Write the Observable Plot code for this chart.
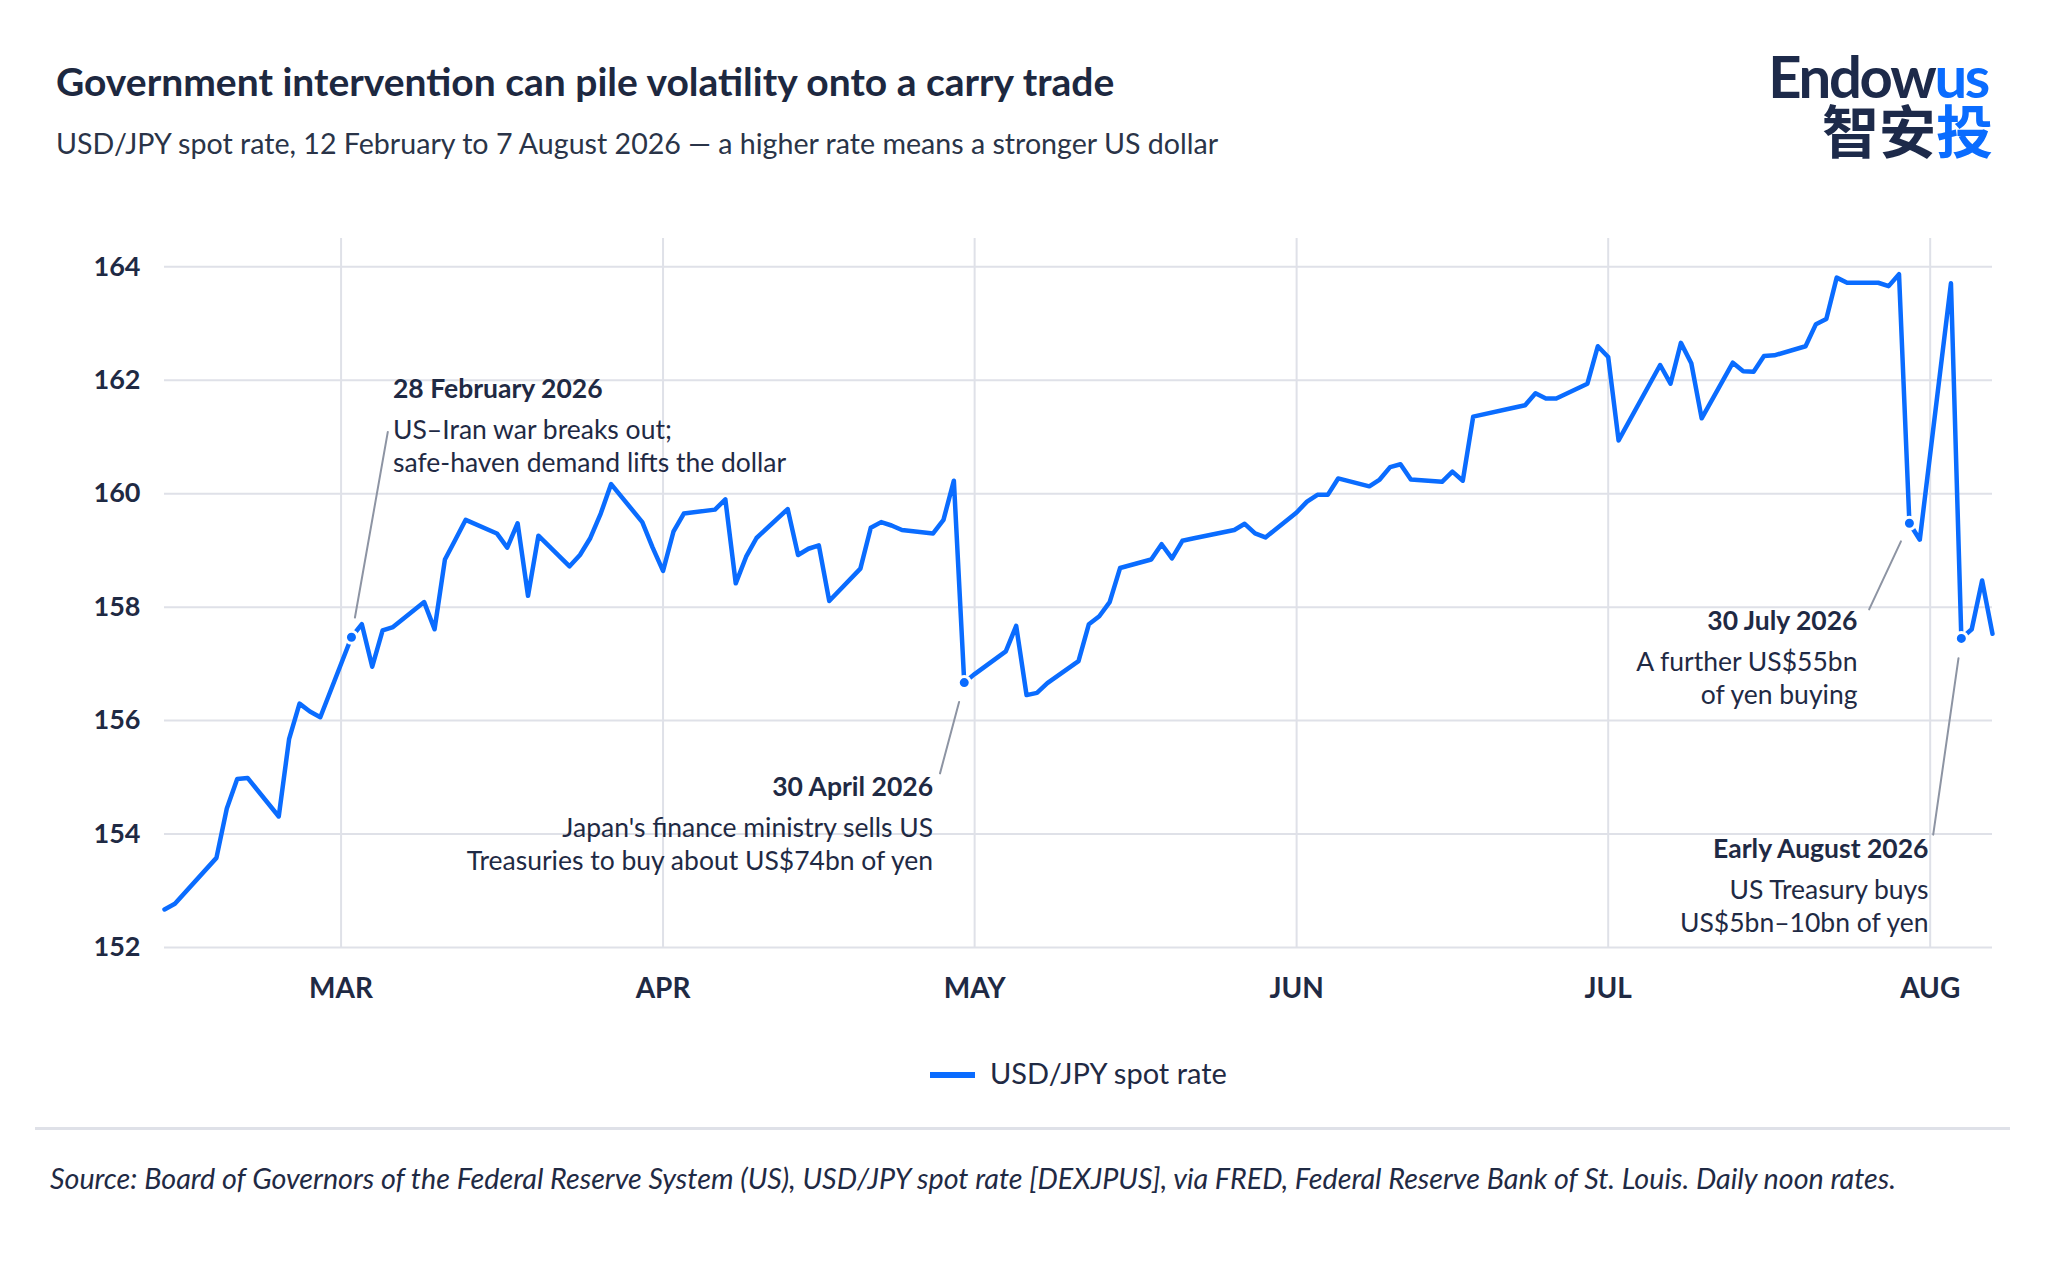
<!DOCTYPE html>
<html>
<head>
<meta charset="utf-8">
<script src="https://cdn.jsdelivr.net/npm/d3@7"></script>
<script src="https://cdn.jsdelivr.net/npm/@observablehq/plot@0.6"></script>
<style>
  html, body { margin: 0; padding: 0; background: #ffffff; }
  body { width: 2048px; height: 1270px; position: relative; overflow: hidden; font-family: Lato, "Noto Sans", sans-serif; color: #1f2a44; }
  .abs { position: absolute; line-height: 1; white-space: nowrap; }
  #title { left: 56px; top: 62px; font-size: 39px; font-weight: 700; color: #1d2840; }
  #subtitle { left: 56px; top: 129px; font-size: 28.6px; font-weight: 400; color: #2a3448; }
  #logo { right: 60px; top: 50px; font-size: 58px; line-height: 0.9; font-weight: 700; color: #1d2a4a; letter-spacing: -2.3px; }
  #logo span, #logocn span { color: #0a6cff; }
  #logocn { right: 55px; top: 103px; font-size: 57px; line-height: 0.9; font-weight: 700; color: #1d2a4a; font-family: "Noto Sans CJK SC", sans-serif; }
  #chart { position: absolute; left: 0; top: 200px; }
  #legend-swatch { position: absolute; left: 930px; top: 1072px; width: 45px; height: 6px; background: #0a6cff; }
  #legend-text { left: 990px; top: 1058px; font-size: 29px; color: #1f2a44; }
  #rule { position: absolute; left: 35px; top: 1127px; width: 1975px; height: 3px; background: #dfe1e8; }
  #source { left: 50px; top: 1164px; font-size: 28.7px; font-style: italic; color: #1f2a44; }
</style>
</head>
<body>
<div id="title" class="abs">Government intervention can pile volatility onto a carry trade</div>
<div id="subtitle" class="abs">USD/JPY spot rate, 12 February to 7 August 2026 — a higher rate means a stronger US dollar</div>
<div id="logo" class="abs">Endow<span>us</span></div>
<div id="logocn" class="abs">智安<span>投</span></div>
<div id="chart"></div>
<div id="legend-swatch"></div>
<div id="legend-text" class="abs">USD/JPY spot rate</div>
<div id="rule"></div>
<div id="source" class="abs">Source: Board of Governors of the Federal Reserve System (US), USD/JPY spot rate [DEXJPUS], via FRED, Federal Reserve Bank of St. Louis. Daily noon rates.</div>
<script>
// ---- data ----
const dates = [
  "2026-02-12","2026-02-13","2026-02-17","2026-02-18","2026-02-19","2026-02-20",
  "2026-02-23","2026-02-24","2026-02-25","2026-02-26","2026-02-27",
  "2026-03-02","2026-03-03","2026-03-04","2026-03-05","2026-03-06",
  "2026-03-09","2026-03-10","2026-03-11","2026-03-12","2026-03-13",
  "2026-03-16","2026-03-17","2026-03-18","2026-03-19","2026-03-20",
  "2026-03-23","2026-03-24","2026-03-25","2026-03-26","2026-03-27",
  "2026-03-30","2026-03-31","2026-04-01","2026-04-02","2026-04-03",
  "2026-04-06","2026-04-07","2026-04-08","2026-04-09","2026-04-10",
  "2026-04-13","2026-04-14","2026-04-15","2026-04-16","2026-04-17",
  "2026-04-20","2026-04-21","2026-04-22","2026-04-23","2026-04-24",
  "2026-04-27","2026-04-28","2026-04-29","2026-04-30","2026-05-01",
  "2026-05-04","2026-05-05","2026-05-06","2026-05-07","2026-05-08",
  "2026-05-11","2026-05-12","2026-05-13","2026-05-14","2026-05-15",
  "2026-05-18","2026-05-19","2026-05-20","2026-05-21","2026-05-22",
  "2026-05-26","2026-05-27","2026-05-28","2026-05-29",
  "2026-06-01","2026-06-02","2026-06-03","2026-06-04","2026-06-05",
  "2026-06-08","2026-06-09","2026-06-10","2026-06-11","2026-06-12",
  "2026-06-15","2026-06-16","2026-06-17","2026-06-18",
  "2026-06-22","2026-06-23","2026-06-24","2026-06-25","2026-06-26",
  "2026-06-29","2026-06-30","2026-07-01","2026-07-02",
  "2026-07-06","2026-07-07","2026-07-08","2026-07-09","2026-07-10",
  "2026-07-13","2026-07-14","2026-07-15","2026-07-16","2026-07-17",
  "2026-07-20","2026-07-21","2026-07-22","2026-07-23","2026-07-24",
  "2026-07-27","2026-07-28","2026-07-29","2026-07-30","2026-07-31",
  "2026-08-03","2026-08-04","2026-08-05","2026-08-06","2026-08-07"
];
const values = [
  152.67,152.77,153.58,154.45,154.97,154.99,
  154.31,155.68,156.30,156.16,156.06,
  157.47,157.70,156.95,157.59,157.65,
  158.09,157.61,158.84,159.19,159.54,
  159.30,159.05,159.48,158.20,159.26,
  158.72,158.92,159.22,159.65,160.17,
  159.50,159.05,158.64,159.33,159.65,
  159.72,159.90,158.42,158.89,159.22,
  159.73,158.92,159.03,159.09,158.11,
  158.68,159.40,159.50,159.44,159.36,
  159.30,159.54,160.23,156.67,156.82,
  157.22,157.67,156.45,156.49,156.66,
  157.05,157.70,157.84,158.09,158.69,
  158.84,159.11,158.86,159.17,159.21,
  159.36,159.47,159.30,159.23,
  159.67,159.86,159.98,159.98,160.27,
  160.13,160.25,160.47,160.52,160.25,
  160.21,160.39,160.23,161.36,
  161.52,161.56,161.77,161.68,161.68,
  161.94,162.60,162.41,160.94,
  162.27,161.94,162.66,162.30,161.33,
  162.31,162.16,162.15,162.43,162.44,
  162.60,162.99,163.08,163.81,163.72,
  163.72,163.66,163.87,159.48,159.19,
  163.71,157.45,157.61,158.47,157.53
];
const yTicks = [152, 154, 156, 158, 160, 162, 164];
const yLabels = ["152","154","156","158","160","162","164"];
const monthTicks = ["2026-03-01","2026-04-01","2026-05-01","2026-06-01","2026-07-01","2026-08-01"];
const monthLabels = ["MAR","APR","MAY","JUN","JUL","AUG"];

// annotations
const annDates = ["2026-03-02","2026-04-30","2026-07-30","2026-08-04"];
const annTitles = ["28 February 2026","30 April 2026","30 July 2026","Early August 2026"];
const annLine1 = ["US–Iran war breaks out;","Japan's finance ministry sells US","A further US$55bn","US Treasury buys"];
const annLine2 = ["safe-haven demand lifts the dollar","Treasuries to buy about US$74bn of yen","of yen buying","US$5bn–10bn of yen"];
const annAnchor = ["start","end","end","end"];
const annLabelDates = ["2026-03-06","2026-04-27","2026-07-25","2026-07-31T20:00"];
const annLabelValues = [161.83, 154.82, 157.74, 153.73];
const annLinkDates = ["2026-03-05T12:00","2026-04-27T16:00","2026-07-26T03:00","2026-08-01T07:00"];
const annLinkValues = [161.09, 155.07, 157.96, 153.99];

// ---- build ----
const P = s => new Date(s.length === 10 ? s + "T00:00:00Z" : s + ":00Z");
const blue = "#0a6cff";
const navy = "#1f2a44";
const gridColor = "#dfe1e8";

const data = dates.map((d, i) => ({date: P(d), value: values[i]}));
const valueByDate = new Map(dates.map((d, i) => [d, values[i]]));
const ann = annDates.map((d, i) => ({
  date: P(d), value: valueByDate.get(d),
  title: annTitles[i], line1: annLine1[i], line2: annLine2[i], anchor: annAnchor[i],
  lx: P(annLabelDates[i]), ly: annLabelValues[i],
  cx: P(annLinkDates[i]), cy: annLinkValues[i]
}));
const monthTickDates = monthTicks.map(P);
const labelByTime = new Map(monthTickDates.map((d, i) => [+d, monthLabels[i]]));
const yLabelByValue = new Map(yTicks.map((v, i) => [v, yLabels[i]]));

function annText(anchor) {
  const sub = ann.filter(a => a.anchor === anchor);
  const base = {x: "lx", y: "ly", textAnchor: anchor, lineAnchor: "middle", fill: navy, fontSize: 26.5};
  return [
    Plot.text(sub, {...base, text: "title", fontWeight: 700}),
    Plot.text(sub, {...base, text: "line1", dy: 41}),
    Plot.text(sub, {...base, text: "line2", dy: 74})
  ];
}

const chart = Plot.plot({
  width: 2048,
  height: 807,
  marginTop: 38,
  marginBottom: 60,
  marginLeft: 164,
  marginRight: 56,
  x: {type: "utc", domain: [P(dates[0]), P(dates[dates.length - 1])]},
  y: {domain: [152, 164.5]},
  style: {fontFamily: "Lato, sans-serif", color: navy, background: "white", overflow: "visible"},
  marks: [
    Plot.gridY(yTicks, {stroke: gridColor, strokeOpacity: 1, strokeWidth: 2}),
    Plot.gridX(monthTickDates, {stroke: gridColor, strokeOpacity: 1, strokeWidth: 2}),
    Plot.axisY(yTicks, {tickSize: 0, tickPadding: 24, fontSize: 27, fontWeight: 700, label: null,
      tickFormat: v => yLabelByValue.get(v)}),
    Plot.axisX(monthTickDates, {tickSize: 0, tickPadding: 31, fontSize: 28, fontWeight: 700, label: null,
      tickFormat: d => labelByTime.get(+d)}),
    Plot.line(data, {x: "date", y: "value", stroke: blue, strokeWidth: 4.5, strokeLinejoin: "round", strokeLinecap: "round"}),
    Plot.arrow(ann, {x1: "date", y1: "value", x2: "cx", y2: "cy", stroke: "#8d94a3", strokeWidth: 2, headLength: 0, insetStart: 20}),
    Plot.dot(ann, {x: "date", y: "value", r: 6, fill: blue, stroke: "white", strokeWidth: 3}),
    ...annText("start"),
    ...annText("end")
  ]
});
document.getElementById("chart").appendChild(chart);
</script>
</body>
</html>
